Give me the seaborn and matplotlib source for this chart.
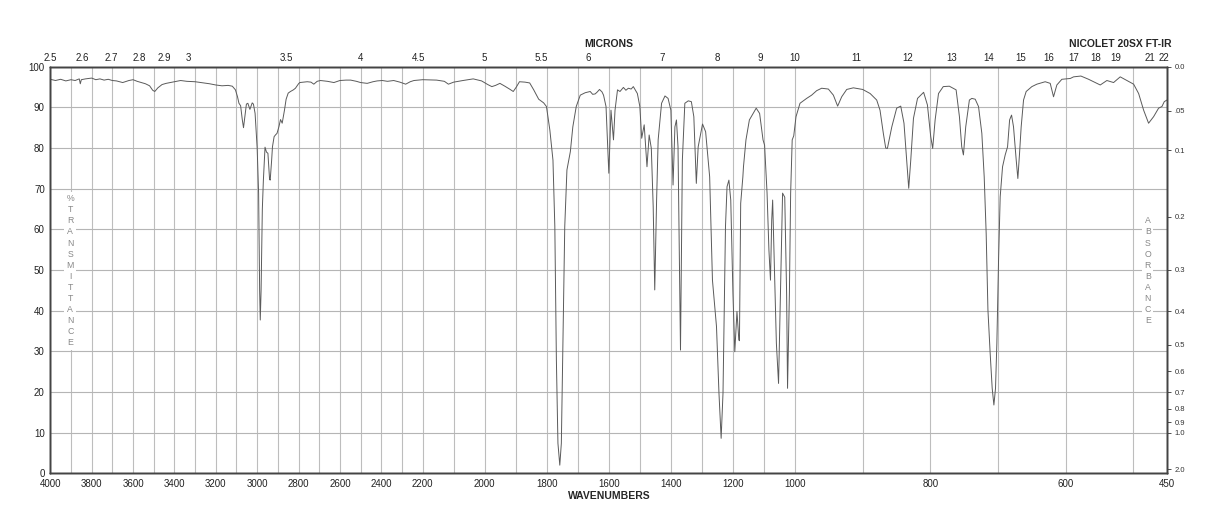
import numpy as np
import pandas as pd
import seaborn as sns
import matplotlib
matplotlib.use('Agg')
import matplotlib.pyplot as plt
from matplotlib.ticker import FixedLocator

# IR spectrum (wavenumber in cm-1, %T)
wavenumber = [
    4000, 3975, 3950, 3925, 3900, 3880, 3860, 3855, 3850, 3830, 3800, 3780, 3760, 3740, 3720,
    3700, 3680, 3650, 3620, 3600, 3580, 3560, 3540, 3520, 3505, 3495, 3480, 3460, 3440, 3420,
    3400, 3370, 3340, 3300, 3260, 3230, 3200, 3170, 3140, 3120, 3105, 3095, 3088, 3080, 3072,
    3066, 3060, 3052, 3045, 3035, 3024, 3018, 3010, 3000, 2993, 2988, 2985, 2981, 2975, 2970,
    2962, 2955, 2948, 2940, 2937, 2930, 2926, 2918, 2910, 2904, 2895, 2887, 2879, 2868, 2860,
    2850, 2839, 2825, 2815, 2800, 2794, 2775, 2758, 2740, 2726, 2710, 2694, 2660, 2629, 2600,
    2570, 2548, 2520, 2500, 2468, 2440, 2420, 2395, 2370, 2340, 2310, 2282, 2260, 2242, 2200,
    2155, 2130, 2117, 2100, 2070, 2037, 2010, 1990, 1977, 1965, 1951, 1935, 1920, 1908, 1898,
    1888, 1870, 1855, 1842, 1826, 1810, 1801, 1790, 1780, 1774, 1769, 1764, 1758, 1753, 1748,
    1742, 1735, 1724, 1716, 1705, 1692, 1676, 1660, 1652, 1644, 1637, 1630, 1622, 1617, 1609,
    1600, 1593, 1585, 1580, 1572, 1564, 1553, 1545, 1537, 1528, 1521, 1508, 1500, 1494, 1486,
    1477, 1470, 1463, 1457, 1452, 1446, 1441, 1430, 1419, 1409, 1400, 1393, 1387, 1382, 1377,
    1369, 1363, 1355, 1344, 1334, 1326, 1318, 1312, 1298, 1288, 1275, 1266, 1253, 1245, 1238,
    1232, 1224, 1219, 1213, 1207, 1200, 1194, 1187, 1181, 1179, 1175, 1168, 1166, 1158, 1147,
    1141, 1125, 1114, 1103, 1098, 1090, 1084, 1079, 1075, 1072, 1067, 1060, 1053, 1047, 1040,
    1033, 1027, 1024, 1018, 1014, 1009, 1004, 998.5, 992.6, 982.8, 975.4, 968, 960.6, 950.7, 943.3,
    937, 931, 923.6, 913.8, 900, 889, 879.3, 874.4, 869.5, 866, 863.5, 857, 849.8, 843.8, 839,
    835, 832, 829, 825, 819, 810, 804.4, 799.5, 796.6, 793, 788, 781, 772, 762, 757.1,
    753.7, 751.2, 747.8, 742.4, 738.8, 733.8, 728.9, 724, 720.5, 717.6, 715, 711.7, 708.7, 706.2, 703.8,
    701.8, 699.3, 696.9, 693.4, 689.5, 686, 683, 680.1, 677.2, 673.2, 670.8, 668.3, 665.9, 662.4, 658.5,
    650.1, 642.7, 630.4, 623, 618.1, 613.2, 605.8, 593.4, 588.5, 577.7, 566.3, 549.1, 539.3, 529.4, 519.6,
    509.7, 499.8, 492.4, 485, 477.7, 470.3, 462.9, 458, 454.5, 450.6,
]
transmittance = [
    96.9, 96.6, 96.9, 96.5, 96.8, 96.6, 97.0, 95.8, 96.8, 97.0, 97.2, 96.8, 97.0, 96.7, 96.9,
    96.6, 96.5, 96.1, 96.6, 96.8, 96.4, 96.1, 95.8, 95.3, 94.2, 93.9, 94.8, 95.6, 95.9, 96.1,
    96.3, 96.6, 96.4, 96.3, 96.0, 95.8, 95.5, 95.3, 95.4, 95.2, 94.3, 92.6, 91.0, 90.4, 87.0,
    85.0, 87.5, 90.8, 91.0, 89.5, 91.1, 90.8, 88.5, 80.0, 68.9, 45.0, 37.7, 45.0, 65.0, 72.0,
    80.2, 79.0, 78.7, 72.3, 72.1, 77.0, 80.3, 82.8, 83.3, 83.6, 85.2, 87.0, 86.1, 89.3, 92.0,
    93.5, 93.9, 94.3, 94.7, 95.8, 96.1, 96.2, 96.3, 96.2, 95.7, 96.4, 96.6, 96.4, 96.1, 96.6,
    96.7, 96.7, 96.4, 96.1, 95.9, 96.3, 96.5, 96.6, 96.4, 96.6, 96.2, 95.7, 96.3, 96.6, 96.8,
    96.7, 96.4, 95.7, 96.2, 96.6, 97.0, 96.5, 95.6, 95.1, 95.4, 95.9, 95.2, 94.5, 93.9, 95.0,
    96.3, 96.2, 96.0, 94.3, 92.0, 91.1, 90.2, 84.4, 77.0, 60.7, 27.9, 7.4, 2.0, 7.4, 32.0,
    60.7, 74.6, 79.1, 85.2, 90.2, 93.0, 93.6, 93.9, 93.2, 93.3, 93.8, 94.4, 93.8, 93.0, 90.2,
    73.8, 89.3, 82.0, 89.3, 94.3, 93.9, 94.9, 94.2, 94.7, 94.5, 95.1, 93.4, 90.2, 82.4, 85.7,
    75.4, 83.2, 79.9, 65.6, 45.1, 67.2, 82.0, 91.0, 92.8, 92.2, 89.3, 70.9, 85.2, 86.9, 80.3,
    30.3, 77.0, 91.0, 91.6, 91.4, 87.7, 71.3, 80.3, 85.9, 84.0, 72.9, 47.5, 36.1, 19.7, 8.6,
    19.7, 60.7, 70.5, 72.1, 67.2, 44.3, 29.9, 39.8, 32.8, 32.6, 66.4, 72.9, 75.4, 82.0, 86.9,
    87.7, 89.8, 88.5, 82.0, 80.7, 68.9, 54.9, 47.5, 62.3, 67.2, 52.5, 32.0, 22.1, 44.3, 68.9,
    67.9, 44.3, 20.9, 44.3, 68.9, 82.0, 83.0, 87.7, 91.0, 92.2, 93.0, 94.1, 94.7, 94.5, 93.0,
    90.3, 92.6, 94.4, 94.8, 94.4, 93.4, 91.8, 89.3, 83.6, 80.0, 79.9, 85.2, 89.8, 90.3, 86.1,
    77.0, 70.1, 77.0, 87.3, 92.2, 93.7, 90.6, 82.8, 79.9, 86.9, 93.4, 95.1, 95.2, 94.3, 87.7,
    80.3, 78.3, 85.2, 91.8, 92.2, 92.0, 90.2, 83.6, 72.9, 59.0, 40.2, 29.5, 20.9, 16.8, 20.9,
    32.0, 52.5, 68.0, 75.4, 78.3, 80.3, 86.9, 88.1, 85.2, 77.0, 72.5, 78.7, 85.2, 91.8, 93.9,
    95.1, 95.7, 96.3, 95.9, 92.6, 95.5, 96.9, 97.1, 97.5, 97.7, 96.9, 95.5, 96.6, 96.1, 97.5,
    96.6, 95.7, 93.4, 89.3, 86.1, 87.7, 89.8, 90.2, 91.4, 91.8,
]

wn_ticks = [4000, 3800, 3600, 3400, 3200, 3000, 2800, 2600, 2400, 2200, 2000,
            1800, 1600, 1400, 1200, 1000, 800, 600, 450]
micron_ticks = [2.5, 2.6, 2.7, 2.8, 2.9, 3, 3.5, 4, 4.5, 5, 5.5, 6, 7, 8, 9, 10,
                11, 12, 13, 14, 15, 16, 17, 18, 19, 21, 22]
absorb_ticks = [0.0, 0.05, 0.1, 0.2, 0.3, 0.4, 0.5, 0.6, 0.7, 0.8, 0.9, 1.0, 2.0]
absorb_labels = ['0.0', '.05', '0.1', '0.2', '0.3', '0.4', '0.5', '0.6', '0.7',
                 '0.8', '0.9', '1.0', '2.0']

# chart paper: three equal-width panels 4000-2200, 2200-1000, 1000-450
BREAKS = [450, 1000, 2200, 4000]


def fwd(w):
    return np.interp(np.asarray(w, float), BREAKS, [0, 1, 2, 3])


def inv(u):
    return np.interp(np.asarray(u, float), [0, 1, 2, 3], BREAKS)


sns.set_style('white')
plt.rcParams['font.family'] = ['Liberation Sans', 'DejaVu Sans']

fig, ax = plt.subplots(figsize=(12.18, 5.28), dpi=100)
fig.subplots_adjust(left=0.0413, right=0.9584, bottom=0.1036, top=0.8737)

ax.set_xscale('function', functions=(fwd, inv))
df = pd.DataFrame({'wn': wavenumber, 't': transmittance})
sns.lineplot(data=df, x='wn', y='t', sort=False, estimator=None,
             color='#5a5a5a', lw=0.7, ax=ax)
ax.set_xlim(4000, 450)
ax.set_ylim(0, 100)
ax.set_xlabel('')
ax.set_ylabel('')
ax.set_axisbelow(True)

ax.xaxis.set_major_locator(FixedLocator(wn_ticks))
ax.set_xticklabels([str(t) for t in wn_ticks])
ax.xaxis.set_minor_locator(FixedLocator(list(range(500, 4000, 100))))
ax.yaxis.set_major_locator(FixedLocator(list(range(0, 101, 10))))
ax.grid(which='both', axis='x', color='#bdbdbd', lw=0.8)
ax.grid(which='major', axis='y', color='#b5b5b5', lw=0.8)
ax.tick_params(which='both', length=0, labelsize=7, pad=4, colors='#222222')
for sp in ax.spines.values():
    sp.set_color('#444444')
    sp.set_linewidth(1)

# microns on top
top = ax.twiny()
top.set_xscale('function', functions=(fwd, inv))
top.set_xlim(4000, 450)
top.xaxis.set_major_locator(FixedLocator([1e4 / m for m in micron_ticks]))
top.set_xticklabels([('%g' % m) for m in micron_ticks])
top.tick_params(length=0, labelsize=7, pad=3, colors='#222222')
top.grid(False)

# absorbance on the right
rt = ax.twinx()
rt.set_ylim(0, 100)
rt.yaxis.set_major_locator(FixedLocator([100 * 10 ** -a for a in absorb_ticks]))
rt.set_yticklabels(absorb_labels)
rt.tick_params(length=3, width=0.6, labelsize=5.5, pad=2, colors='#333333')
rt.grid(False)
for a in (top, rt):
    for sp in a.spines.values():
        sp.set_color('#444444')
        sp.set_linewidth(1)

box = dict(facecolor='white', edgecolor='none', pad=1.5)
ax.text(0.018, 49.8, '\n'.join('%TRANSMITTANCE'), transform=ax.get_yaxis_transform(),
        ha='center', va='center', fontsize=6.3, color='#888888', linespacing=1.3, bbox=box)
ax.text(0.9825, 49.8, '\n'.join('ABSORBANCE'), transform=ax.get_yaxis_transform(),
        ha='center', va='center', fontsize=6.3, color='#888888', linespacing=1.3, bbox=box)

fig.text(0.5, 0.9167, 'MICRONS', ha='center', va='center', fontsize=7.5, fontweight='bold')
fig.text(0.5, 0.0606, 'WAVENUMBERS', ha='center', va='center', fontsize=7.5, fontweight='bold')
fig.text(0.962, 0.9167, 'NICOLET 20SX FT-IR', ha='right', va='center', fontsize=7.5,
         fontweight='bold')

fig.savefig('out.png', dpi=100)
